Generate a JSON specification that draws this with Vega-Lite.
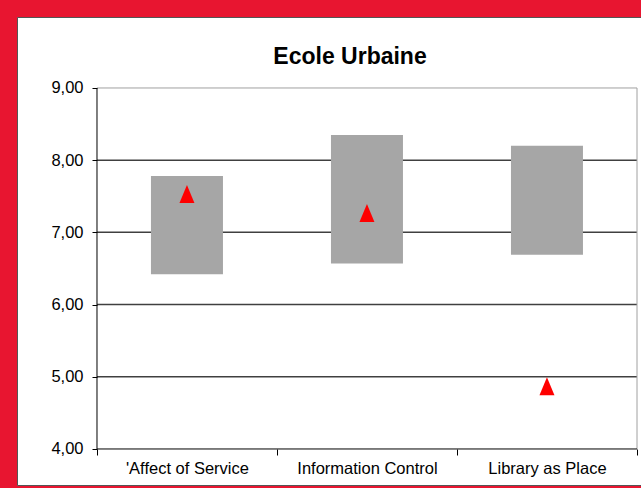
{
  "$schema": "https://vega.github.io/schema/vega-lite/v6.json",
  "width": 624,
  "height": 468,
  "autosize": "none",
  "padding": {"left": 17, "top": 17, "right": 0, "bottom": 3},
  "background": "#e81530",
  "config": {
    "view": {"fill": "white", "stroke": "#555555", "strokeWidth": 1},
    "font": "Liberation Sans"
  },
  "title": {
    "text": "Ecole Urbaine",
    "fontSize": 23,
    "font": "Liberation Sans",
    "fontWeight": "bold",
    "color": "black",
    "offset": -52,
    "dx": 21,
    "anchor": "middle",
    "frame": "group"
  },
  "data": {
    "values": [
      {"category": "'Affect of Service", "low": 6.42, "high": 7.78, "score": 7.53},
      {"category": "Information Control", "low": 6.57, "high": 8.35, "score": 7.27},
      {"category": "Library as Place", "low": 6.69, "high": 8.20, "score": 4.87}
    ]
  },
  "layer": [
    {
      "data": {"values": [{"v": 5}, {"v": 6}, {"v": 7}, {"v": 8}]},
      "mark": {"type": "rule", "color": "#404040", "strokeWidth": 1.5},
      "encoding": {
        "y": {
          "field": "v",
          "type": "quantitative",
          "scale": {"domain": [3.501, 9.983], "nice": false, "zero": false},
          "axis": {
            "title": null,
            "values": [4, 5, 6, 7, 8, 9],
            "labelExpr": "replace(format(datum.value, '.2f'), '.', ',')",
            "domain": false,
            "grid": false,
            "ticks": true,
            "tickColor": "black",
            "tickSize": 5,
            "labelFontSize": 16.5,
            "labelFont": "Liberation Sans",
            "labelColor": "black",
            "labelPadding": 9,
            "offset": -80
          }
        },
        "x": {"datum": 0, "type": "quantitative", "scale": {"domain": [-0.4444, 3.0222], "nice": false, "zero": false}, "axis": null},
        "x2": {"datum": 3}
      }
    },
    {
      "layer": [
        {
          "mark": {"type": "bar", "color": "#a6a6a6", "width": {"band": 0.4}},
          "encoding": {
            "x": {
              "field": "category",
              "type": "nominal",
              "sort": null,
              "scale": {"paddingInner": 0, "paddingOuter": 0.2333, "align": 0.952},
              "axis": {
                "title": null,
                "labelAngle": 0,
                "domain": false,
                "tickBand": "extent",
                "tickSize": 6,
                "tickColor": "black",
                "labelFontSize": 16.5,
                "labelFont": "Liberation Sans",
                "labelColor": "black",
                "labelPadding": 5,
                "offset": -36
              }
            },
            "y": {"field": "high", "type": "quantitative", "axis": {"title": null}},
            "y2": {"field": "low"}
          }
        },
        {
          "mark": {"type": "point", "shape": "M-0.833,1L0.833,1L0,-1Z", "filled": true, "color": "#ff0000", "size": 324, "opacity": 1},
          "encoding": {
            "x": {"field": "category", "type": "nominal", "sort": null},
            "y": {"field": "score", "type": "quantitative", "axis": {"title": null}}
          }
        }
      ]
    },
    {
      "data": {"values": [{}]},
      "layer": [
        {
          "mark": {"type": "rule", "color": "#a0a0a0", "strokeWidth": 1},
          "encoding": {
            "x": {"datum": 0, "type": "quantitative", "scale": {"domain": [-0.4444, 3.0222], "nice": false, "zero": false}, "axis": null},
            "x2": {"datum": 3},
            "y": {"datum": 9, "type": "quantitative", "axis": {"title": null}}
          }
        },
        {
          "mark": {"type": "rule", "color": "#a0a0a0", "strokeWidth": 1},
          "encoding": {
            "x": {"datum": 3, "type": "quantitative"},
            "y": {"datum": 4, "type": "quantitative", "axis": {"title": null}},
            "y2": {"datum": 9}
          }
        },
        {
          "mark": {"type": "rule", "color": "black", "strokeWidth": 1},
          "encoding": {
            "x": {"datum": 0, "type": "quantitative"},
            "y": {"datum": 4, "type": "quantitative", "axis": {"title": null}},
            "y2": {"datum": 9}
          }
        },
        {
          "mark": {"type": "rule", "color": "black", "strokeWidth": 1},
          "encoding": {
            "x": {"datum": 0, "type": "quantitative"},
            "x2": {"datum": 3},
            "y": {"datum": 4, "type": "quantitative", "axis": {"title": null}}
          }
        }
      ]
    }
  ],
  "resolve": {"scale": {"x": "independent"}, "axis": {"x": "independent"}}
}
